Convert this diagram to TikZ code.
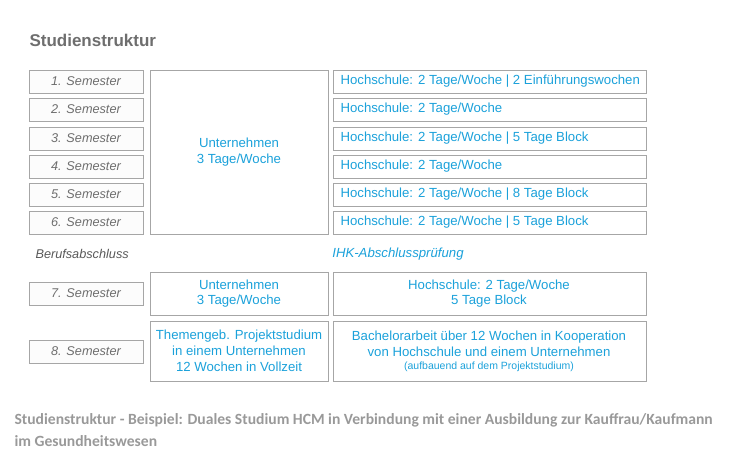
\documentclass[tikz,border=0pt]{standalone}
\usepackage{fontspec}
\setmainfont{Liberation Sans}
\newfontfamily\capfont{Carlito}
\definecolor{bl}{HTML}{1BA1DA}
\definecolor{bx}{HTML}{A6A6A6}
\definecolor{tg}{HTML}{6E6E6E}
\begin{document}
\begin{tikzpicture}[x=1pt,y=-1pt,
  bx/.style={draw=bx,line width=1pt},
  sem/.style={font=\fontsize{12.7}{15}\selectfont\itshape,text=tg},
  bt/.style={font=\fontsize{13.2}{15.5}\selectfont,text=bl,align=center}]
\useasboundingbox (0,0) rectangle (735,467);
\node[anchor=west,font=\fontsize{17}{19}\selectfont\bfseries,text=tg] (title) at (26,40) {Studienstruktur};
\foreach \i/\a/\b in {1/70/93,2/98/121,3/127/150,4/155/178,5/183/206,6/211/234}{
  \draw[bx,fill=black!1] (29,\a) rectangle (143,\b);
  \node[sem] (s\i) at (86,{(\a+\b)/2}) {\i. Semester};
}
\draw[bx] (150,70) rectangle (328,234);
\node[bt] (u) at (239,152) {Unternehmen\\3 Tage/Woche};
\foreach \i/\a/\b/\t in {1/70/93/{Hochschule: 2 Tage/Woche | 2 Einführungswochen},2/98/121/{Hochschule: 2 Tage/Woche},3/127/150/{Hochschule: 2 Tage/Woche | 5 Tage Block},4/155/178/{Hochschule: 2 Tage/Woche},5/183/206/{Hochschule: 2 Tage/Woche | 8 Tage Block},6/211/234/{Hochschule: 2 Tage/Woche | 5 Tage Block}}{
  \draw[bx] (333,\a) rectangle (646,\b);
  \node[bt,anchor=west] (h\i) at (337,{(\a+\b)/2}) {\t};
}
\node[sem,anchor=west,text=tg!80!black] (ba) at (32,254) {Berufsabschluss};
\node[bt,font=\fontsize{13.2}{15.5}\selectfont\itshape] (ihk) at (398,254) {IHK-Abschlussprüfung};
\draw[bx,fill=black!1] (29,282) rectangle (143,305);
\node[sem] (s7) at (86,293.5) {7. Semester};
\draw[bx] (150,272) rectangle (328,315);
\node[bt] (u7) at (239,293.5) {Unternehmen\\3 Tage/Woche};
\draw[bx] (333,272) rectangle (646,315);
\node[bt] (h7) at (489,293.5) {Hochschule: 2 Tage/Woche\\5 Tage Block};
\draw[bx,fill=black!1] (29,340) rectangle (143,363);
\node[sem] (s8) at (86,351.5) {8. Semester};
\draw[bx] (150,321) rectangle (328,381);
\node[bt,font=\fontsize{13.2}{16}\selectfont] (u8) at (239,351) {Themengeb. Projektstudium\\in einem Unternehmen\\12 Wochen in Vollzeit};
\draw[bx] (333,321) rectangle (646,381);
\node[bt] (h8) at (489,344) {Bachelorarbeit über 12 Wochen in Kooperation\\von Hochschule und einem Unternehmen};
\node[bt,font=\fontsize{10.5}{12}\selectfont] (h8b) at (489,367) {(aufbauend auf dem Projektstudium)};
\node[anchor=west,font=\capfont\bfseries\fontsize{15.6}{18}\selectfont,text=black!40] (cap1) at (11,420) {Studienstruktur - Beispiel: Duales Studium HCM in Verbindung mit einer Ausbildung zur Kauffrau/Kaufmann};
\node[anchor=west,font=\capfont\bfseries\fontsize{15.6}{18}\selectfont,text=black!40] (cap2) at (11,441) {im Gesundheitswesen};
\end{tikzpicture}
\end{document}
